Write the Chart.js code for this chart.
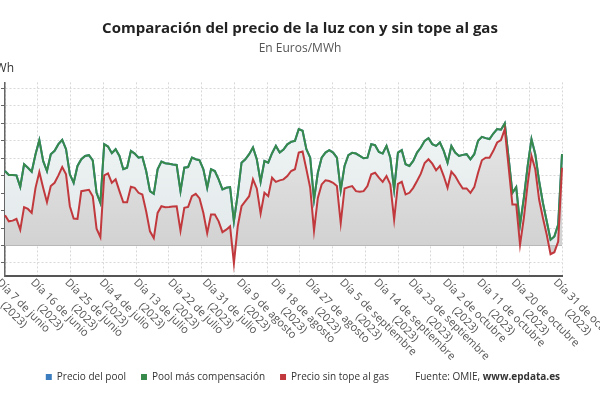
<!DOCTYPE html>
<html>
<head>
<meta charset="utf-8">
<script src="https://cdn.jsdelivr.net/npm/chart.js@4"></script>
<style>
  html, body { margin: 0; padding: 0; background: #fff; overflow: hidden; }
  body { width: 600px; height: 400px; position: relative; }
  /* canvas is wider than the window: the y tick labels fall off the left edge like in the original */
  #wrap { position: absolute; left: -50px; top: 0; width: 700px; height: 400px; }
</style>
</head>
<body>
<div id="wrap"><canvas id="myChart"></canvas></div>
<script>
// daily values, 7 Jun - 31 Oct 2023 (EUR/MWh)
const poolMasComp = [
  85.4, 80.8, 80.8, 80.4, 67.3, 93.1, 89.2, 84.6, 104.7, 120.8,
  96.9, 85.4, 104.7, 108.5, 116.2, 121.2, 110.4, 81.6, 71.9, 91.2,
  98.9, 102.7, 103.5, 97.7, 60.4, 48.8, 116.2, 113.4, 105.8, 110.4,
  102.7, 87.4, 89.2, 108.5, 105.4, 100.7, 101.6, 85.4, 62.3, 59.2,
  87.4, 96.2, 94.3, 93.8, 92.9, 92.3, 62.3, 89.2, 90, 100.7,
  98.9, 97.7, 87.4, 66.1, 87.4, 85.4, 75.8, 64.3, 66.1, 66.9,
  27.7, 58.5, 95, 98.9, 104.7, 112.3, 98.9, 73, 96.9, 95,
  105.8, 114.2, 106.5, 110, 116, 118.8, 120, 133.5, 131.6, 110.4,
  100.7, 52.7, 83.4, 100.7, 106.5, 109.3, 106.5, 100.7, 63.5, 91.2,
  103.5, 106.2, 105.4, 102.7, 100, 100.7, 116.2, 115, 107.3, 105.4,
  114.2, 100.7, 64.3, 106.5, 109.3, 93.1, 91.2, 96.9, 106.5, 112.3,
  120, 123, 116.2, 114.2, 118.1, 108.5, 95, 114.2, 106.5, 102.7,
  103.9, 104.7, 98.9, 104.7, 120, 124.6, 123.1, 122, 128.4, 133.5,
  132.7, 140, 100.7, 60.4, 66.9, 23.9, 54.6, 91.2, 122, 104.7,
  73.9, 48.8, 27.7, 6.6, 10.4, 23.9, 104.7
];
const sinTope = [
  34.6, 27.7, 28.5, 30.4, 18.1, 43.9, 41.9, 37.3, 66.1, 84.2,
  66.1, 49.6, 68.1, 71.9, 80.4, 90, 81.6, 45, 30.8, 30.4,
  62.3, 63.1, 63.8, 56.5, 19.3, 9.6, 80.4, 82.7, 71.9, 75.8,
  62.3, 49.6, 49.6, 67.3, 66.1, 60.4, 58.5, 39.2, 16.2, 8.5,
  37.3, 45, 43.9, 44.2, 44.6, 45, 17, 43.1, 44.2, 56.5,
  59.2, 53.9, 37.3, 14.2, 35.4, 35.4, 27.7, 15.3, 18.1, 21.9,
  -20.4, 21.9, 45, 50.8, 56.5, 75.8, 65.4, 36.6, 60.4, 56.5,
  77.7, 73, 74.7, 75.8, 79.6, 85.4, 87.4, 106.5, 107.7, 87.4,
  66.1, 17, 54.6, 70, 74.7, 73.9, 71.9, 68.1, 25.7, 65.4,
  66.9, 68.1, 62.3, 61.5, 62.3, 68.1, 81.6, 83.4, 77.7, 73,
  79.6, 70, 29.7, 70.7, 73, 58.5, 60.4, 66.1, 73.9, 82.3,
  94.6, 98.9, 93.8, 86.2, 91.2, 79.6, 66.1, 84.6, 79.6, 71.9,
  65.4, 65.4, 60.4, 66.9, 83.4, 97.7, 100.7, 100.7, 108.5, 118.1,
  120.8, 133.5, 90.4, 47, 47, 0.8, 31.5, 70.7, 102.7, 87.4,
  52.7, 31.5, 12.3, -10, -7.7, 4.6, 89.2
];
// the pool price is not visible: it lies under the green line
const precioPool = poolMasComp;

const tickLabels = [
  'Día 7 de junio (2023)', 'Día 16 de junio (2023)', 'Día 25 de junio (2023)',
  'Día 4 de julio (2023)', 'Día 13 de julio (2023)', 'Día 22 de julio (2023)',
  'Día 31 de julio (2023)', 'Día 9 de agosto (2023)', 'Día 18 de agosto (2023)',
  'Día 27 de agosto (2023)', 'Día 5 de septiembre (2023)', 'Día 14 de septiembre (2023)',
  'Día 23 de septiembre (2023)', 'Día 2 de octubre (2023)', 'Día 11 de octubre (2023)',
  'Día 20 de octubre (2023)', 'Día 31 de octubre (2023)'
];

// one category per day
const months = [['junio', 7, 30], ['julio', 1, 31], ['agosto', 1, 31], ['septiembre', 1, 30], ['octubre', 1, 31]];
const days = [];
months.forEach(([m, from, to]) => {
  for (let d = from; d <= to; d++) days.push('Día ' + d + ' de ' + m + ' (2023)');
});

Chart.defaults.font.family = '"Open Sans", "Noto Sans", sans-serif';

function grad(chart, top, bottom) {
  const a = chart.chartArea;
  if (!a) return top;
  const y0 = chart.scales.y.getPixelForValue(0);
  const g = chart.ctx.createLinearGradient(0, a.top, 0, y0);
  g.addColorStop(0, top);
  g.addColorStop(1, bottom);
  return g;
}

// x labels hang down to the right from the tick, two lines centred
const xLabels = {
  id: 'xLabels',
  afterDraw(chart) {
    const xs = chart.scales.x, ctx = chart.ctx;
    ctx.save();
    ctx.font = '11px "Open Sans"';
    ctx.fillStyle = '#555';
    ctx.textBaseline = 'top';
    ctx.textAlign = 'center';
    tickLabels.forEach(t => {
      const x = xs.getPixelForValue(days.indexOf(t));
      const [l1, l2] = t.split(' (');
      const w = ctx.measureText(l1).width;
      ctx.save();
      ctx.translate(x - 3, xs.top + 1);
      ctx.rotate(Math.PI / 4);
      ctx.fillText(l1, w / 2, 0);
      ctx.fillText('(' + l2, w / 2, 13);
      ctx.restore();
    });
    // unit above the y axis
    ctx.textAlign = 'right';
    ctx.textBaseline = 'middle';
    ctx.font = '12px "Open Sans"';
    ctx.fillStyle = '#333';
    ctx.fillText('Euros/MWh', chart.chartArea.left + 9, 69);
    // source, with the bold web address
    const hb = chart.legend.legendHitBoxes[3];
    if (hb) {
      const x0 = hb.left + 6 + 5;
      const y0 = hb.top + hb.height / 2;
      ctx.textAlign = 'left';
      ctx.font = '10px "Open Sans"';
      ctx.fillStyle = '#333';
      ctx.fillText('Fuente: OMIE, ', x0, y0);
      const w = ctx.measureText('Fuente: OMIE, ').width;
      ctx.font = 'bold 10px "Open Sans"';
      ctx.fillText('www.epdata.es', x0 + w, y0);
    }
    ctx.restore();
  }
};

const config = {
  type: 'line',
  data: {
    labels: days,
    datasets: [{
      label: 'Precio del pool',
      data: precioPool,
      borderColor: '#3b7dbf',
      backgroundColor: c => grad(c.chart, '#f4f8f8', '#e2e9ea'),
      fill: 'origin',
      borderWidth: 2,
      pointRadius: 0,
      order: 3
    },
    {
      label: 'Pool más compensación',
      data: poolMasComp,
      borderColor: '#388a4a',
      backgroundColor: '#388a4a',
      fill: false,
      borderWidth: 2,
      pointRadius: 0,
      order: 2
    },
    {
      label: 'Precio sin tope al gas',
      data: sinTope,
      borderColor: '#c1393d',
      backgroundColor: c => grad(c.chart, '#ededed', '#d2d2d2'),
      fill: 'origin',
      borderWidth: 2,
      pointRadius: 0,
      order: 1
    }]
  },
  options: {
    responsive: true,
    maintainAspectRatio: false,
    animation: false,
    layout: { padding: { left: 0, right: 0, bottom: 8 } },
    scales: {
      x: {
        ticks: { display: false },
        grid: { display: false },
        border: { color: '#555', width: 2 },
        afterFit: s => { s.height = 81; }
      },
      xg: {
        type: 'linear', position: 'bottom', min: 0, max: 17,
        ticks: { display: false, stepSize: 1 },
        grid: { color: '#d8d8d8', drawTicks: false, borderDash: [2, 2] },
        border: { display: false, dash: [2, 2] },
        afterFit: s => { s.height = 0; }
      },
      y: {
        min: -35, max: 187,
        ticks: { stepSize: 20, includeBounds: false, color: '#555', font: { size: 11 } },
        grid: {
          color: c => c.tick && c.tick.value === 0 ? 'rgba(0,0,0,0)' : '#d8d8d8',
          tickColor: '#666', tickLength: 4, borderDash: [2, 2]
        },
        border: { color: '#666', width: 1.5, dash: [2, 2] },
        afterFit: s => { s.width = 55; }
      },
      y0: {
        position: 'left', min: -35, max: 187,
        afterBuildTicks: s => { s.ticks = [{ value: 0 }]; },
        ticks: { display: false },
        grid: { color: '#555', lineWidth: 2, drawTicks: false },
        border: { display: false },
        afterFit: s => { s.width = 0; }
      },
      // empty space on the right, keeps title and legend centred in the window
      yr: {
        position: 'right', min: -35, max: 187,
        ticks: { display: false },
        grid: { display: false },
        border: { display: false },
        afterFit: s => { s.width = 88; }
      }
    },
    plugins: {
      title: {
        display: true,
        text: 'Comparación del precio de la luz con y sin tope al gas',
        font: { size: 15, weight: 'bold' },
        color: '#222',
        padding: { top: 20, bottom: 1 }
      },
      subtitle: {
        display: true,
        text: 'En Euros/MWh',
        font: { size: 12 },
        color: '#555',
        padding: { top: 2, bottom: 27 }
      },
      legend: {
        position: 'bottom',
        labels: {
          boxWidth: 6, boxHeight: 6, padding: 15,
          color: '#333', font: { size: 10 },
          generateLabels: chart => {
            const items = Chart.defaults.plugins.legend.labels.generateLabels(chart);
            items.sort((a, b) => a.datasetIndex - b.datasetIndex);
            items.forEach(it => { it.fillStyle = it.strokeStyle; it.lineWidth = 0; });
            items.push({
              text: 'Fuente: OMIE, www.epdata.es',
              fillStyle: 'rgba(0,0,0,0)', strokeStyle: 'rgba(0,0,0,0)',
              lineWidth: 0, fontColor: 'rgba(0,0,0,0)', hidden: false, datasetIndex: 99
            });
            return items;
          }
        },
        onClick: () => {}
      },
      tooltip: { enabled: false }
    }
  },
  plugins: [xLabels]
};

let myChart = new Chart(document.getElementById('myChart'), config);
</script>
</body>
</html>
